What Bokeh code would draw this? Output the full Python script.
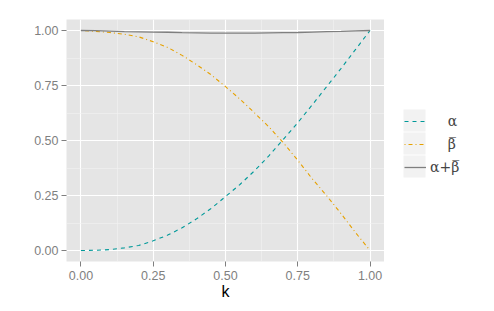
from bokeh.plotting import figure
from bokeh.layouts import row
from bokeh.models import Legend, LegendItem, Range1d, SingleIntervalTicker, PrintfTickFormatter, BoxAnnotation
from bokeh.embed import file_html
from bokeh.resources import INLINE

k = [0.00, 0.05, 0.10, 0.15, 0.20, 0.25, 0.30, 0.35, 0.40, 0.45, 0.50,
     0.55, 0.60, 0.65, 0.70, 0.75, 0.80, 0.85, 0.90, 0.95, 1.00]
alpha = [0.000, 0.001, 0.004, 0.012, 0.023, 0.044, 0.070, 0.103, 0.144, 0.191, 0.245,
         0.300, 0.362, 0.430, 0.505, 0.581, 0.662, 0.745, 0.828, 0.914, 1.000]
beta_bar = [1.000, 0.996, 0.991, 0.983, 0.971, 0.949, 0.923, 0.887, 0.845, 0.799, 0.745,
            0.688, 0.626, 0.562, 0.490, 0.410, 0.326, 0.249, 0.167, 0.081, 0.000]
total = [1.000, 0.999, 0.997, 0.995, 0.994, 0.993, 0.992, 0.990, 0.989, 0.988, 0.988,
         0.988, 0.988, 0.989, 0.990, 0.991, 0.993, 0.995, 0.996, 0.998, 1.000]

NB = "\u00a0"
labels = [NB * 4 + "α", NB * 4 + "β\u0305", "α+β\u0305"]
x_label = "k"
series = [alpha, beta_bar, total]

styles = [dict(line_color="#009999", line_width=1.1, line_dash="4 4"),
          dict(line_color="#E6A100", line_width=1.1, line_dash="1 3 4 3"),
          dict(line_color="#7F7F7F", line_width=1.3, line_dash="solid")]

p = figure(width=384, height=311, output_backend="svg", toolbar_location=None,
           x_range=Range1d(-0.05, 1.05), y_range=Range1d(-0.05, 1.05),
           min_border_left=66, min_border_top=19, min_border_bottom=50, min_border_right=0)

p.background_fill_color = "#E5E5E5"
p.border_fill_color = "white"
p.outline_line_color = None

for ax in (p.xaxis[0], p.yaxis[0]):
    ax.ticker = SingleIntervalTicker(interval=0.25, num_minor_ticks=2)
    ax.formatter = PrintfTickFormatter(format="%.2f")
    ax.axis_line_color = None
    ax.major_tick_line_color = "#7F7F7F"
    ax.major_tick_out = 5
    ax.major_tick_in = 0
    ax.minor_tick_line_color = None
    ax.major_label_text_color = "#7F7F7F"
    ax.major_label_text_font = "Liberation Sans"
    ax.major_label_text_font_size = "12.5px"

p.yaxis[0].major_label_standoff = 3
p.xaxis[0].major_label_standoff = 4
p.xaxis[0].axis_label = x_label
p.xaxis[0].axis_label_text_font = "Liberation Sans"
p.xaxis[0].axis_label_text_font_size = "16px"
p.xaxis[0].axis_label_text_font_style = "normal"
p.xaxis[0].axis_label_text_color = "black"
p.xaxis[0].axis_label_standoff = 0

for g in p.grid:
    g.grid_line_color = "white"
    g.grid_line_width = 1.1
    g.minor_grid_line_color = "#F2F2F2"
    g.minor_grid_line_width = 0.6

for s, st in zip(series, styles):
    p.line(k, s, **st)

# legend panel (its own ranges keep these copies of the lines out of view)
q = figure(width=110, height=311, output_backend="svg", toolbar_location=None,
           x_range=Range1d(5, 6), y_range=Range1d(5, 6), x_axis_type=None, y_axis_type=None,
           min_border=0)
q.grid.visible = False
q.outline_line_color = None
q.background_fill_color = "white"
q.border_fill_color = "white"
copies = [q.line(k, s, **st) for s, st in zip(series, styles)]

for i in range(3):
    q.add_layout(BoxAnnotation(left=19, right=41, top=109 + 23 * i, bottom=131 + 23 * i,
                               left_units="canvas", right_units="canvas",
                               top_units="canvas", bottom_units="canvas",
                               fill_color="#F2F2F2", fill_alpha=1, line_color=None))

legend = Legend(items=[LegendItem(label=lab, renderers=[r]) for lab, r in zip(labels, copies)],
                location=(20, 83))
legend.glyph_width = 22
legend.glyph_height = 22
legend.label_height = 22
legend.spacing = 1
legend.padding = 4
legend.margin = 0
legend.label_standoff = 4
legend.label_text_font = "DejaVu Serif"
legend.label_text_font_size = "14px"
legend.background_fill_alpha = 0
legend.border_line_color = None
q.add_layout(legend)

layout = row(p, q)
open("out.html", "w").write(file_html(layout, INLINE))
